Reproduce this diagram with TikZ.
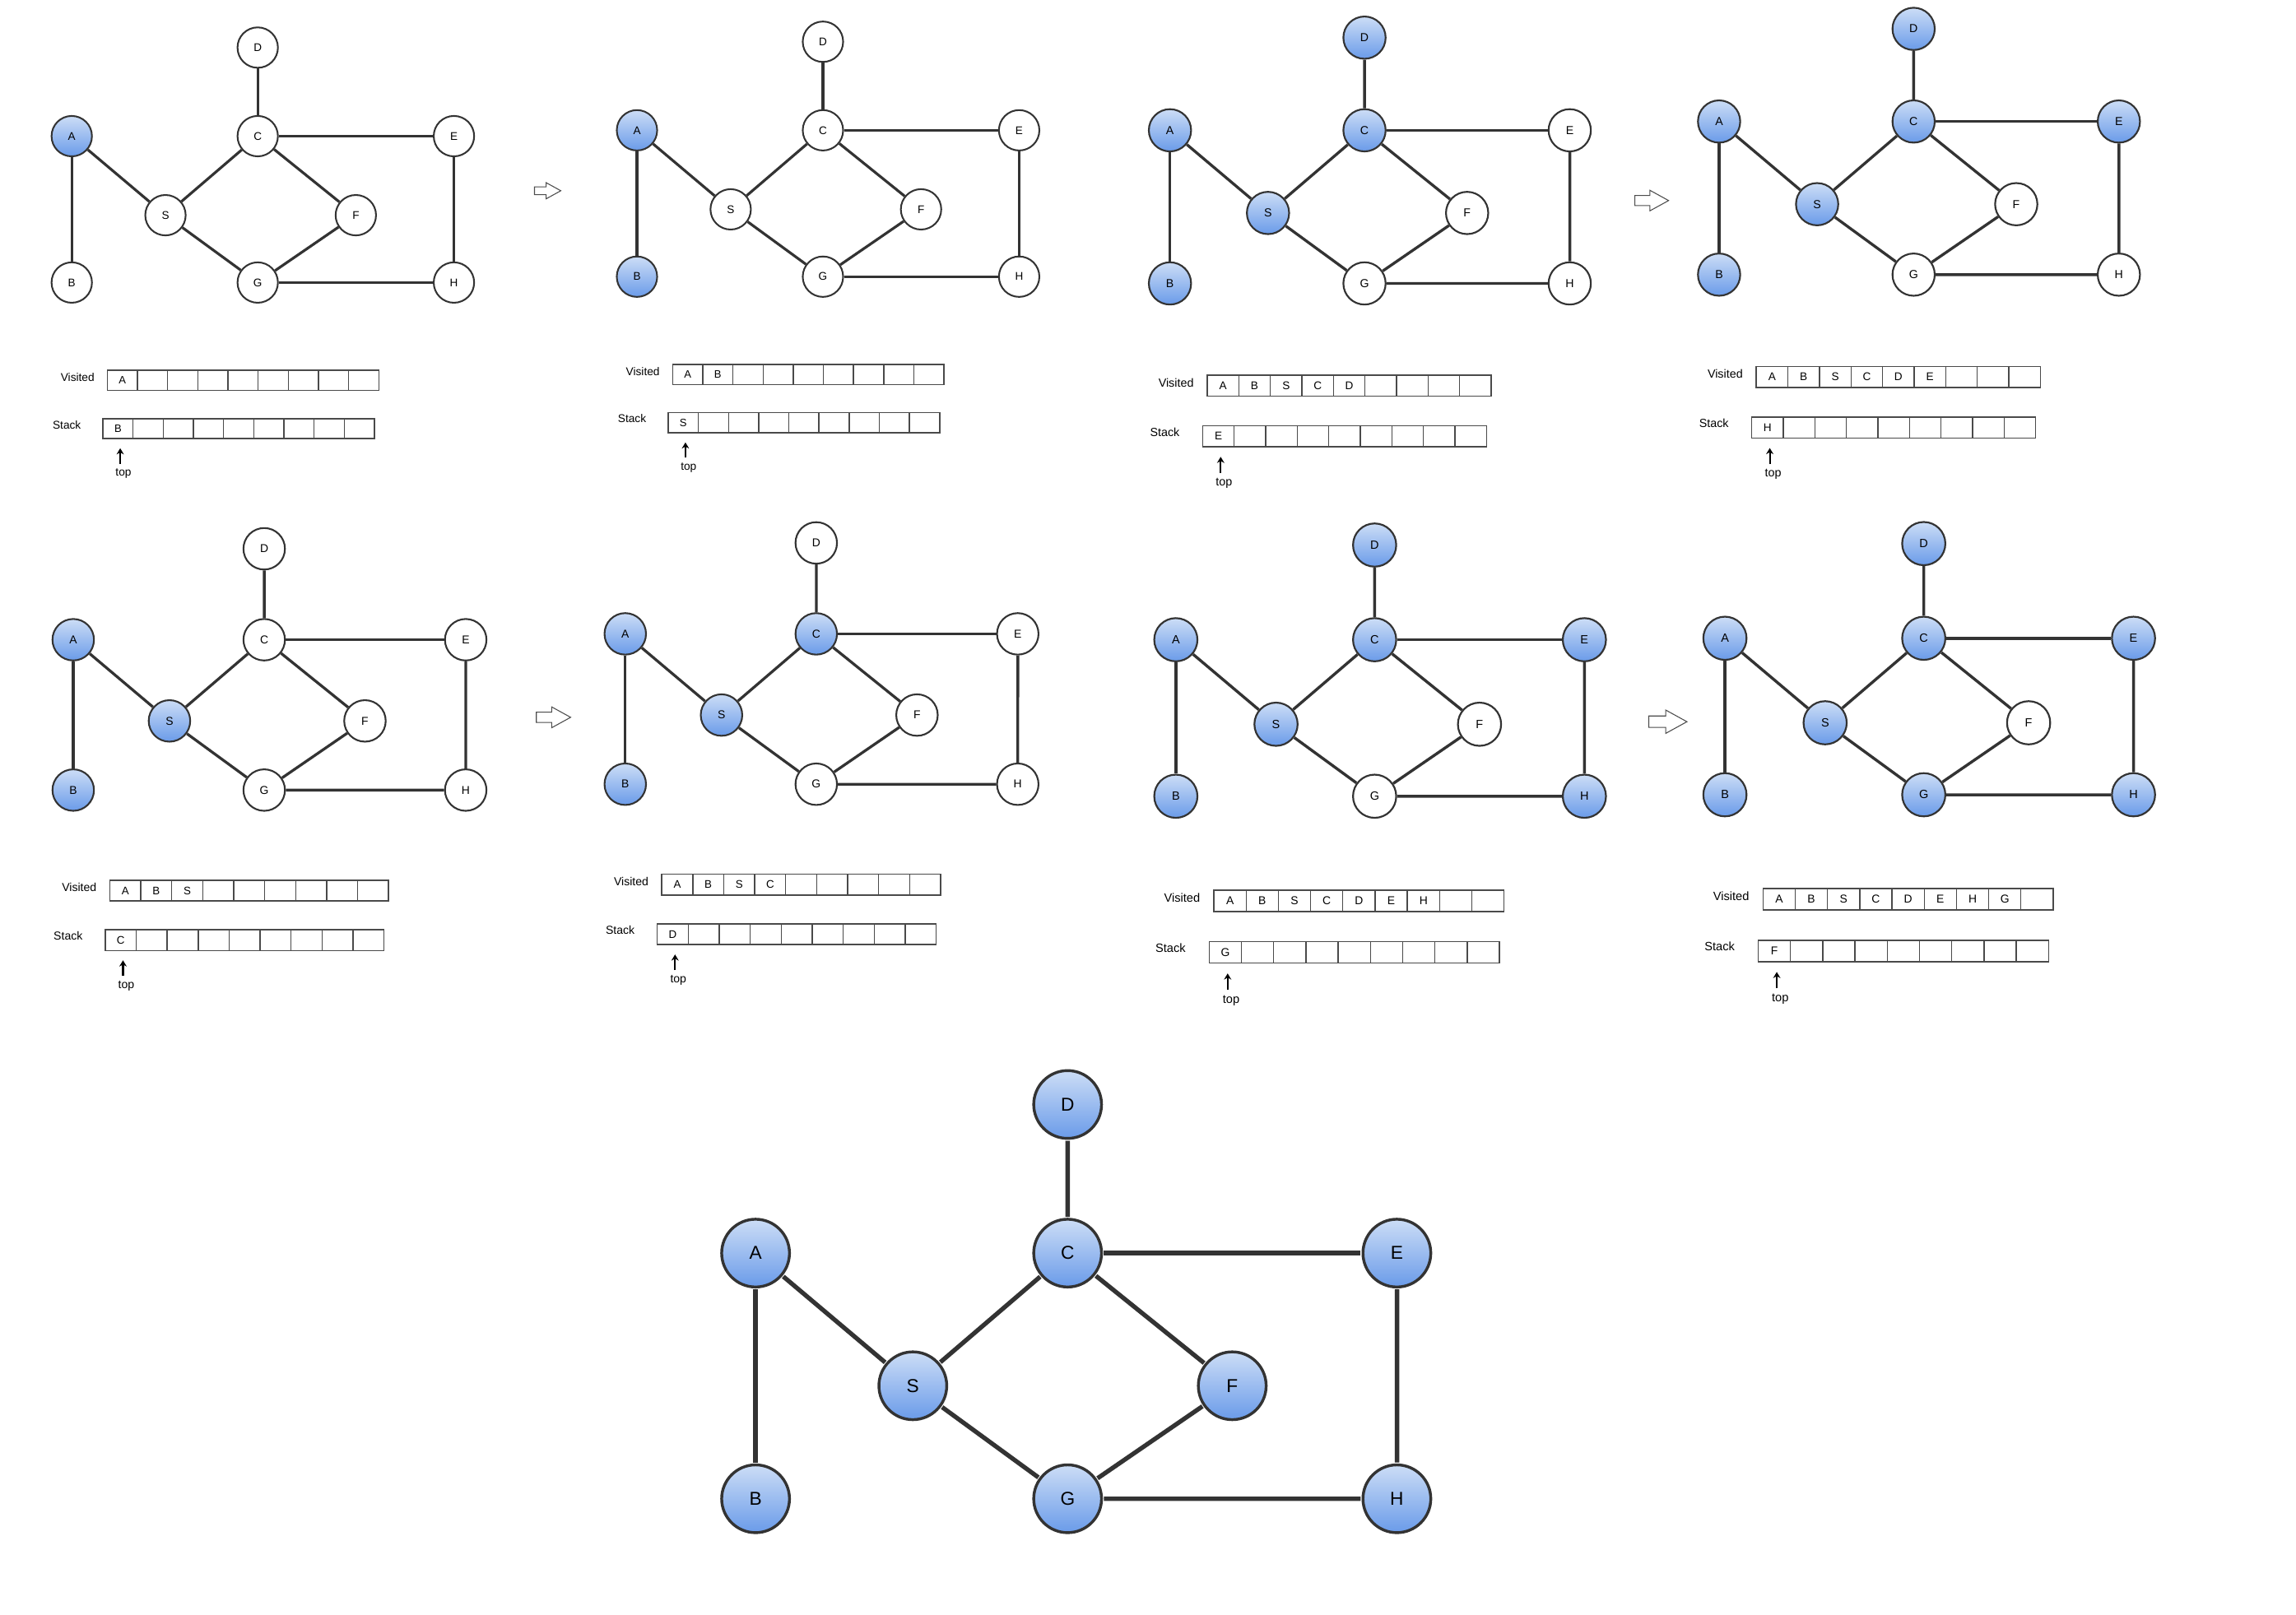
\documentclass[tikz,border=0pt]{standalone}
\usepackage{fontspec}
\setmainfont{Liberation Sans}
\usetikzlibrary{arrows.meta}
\definecolor{edgec}{HTML}{333333}
\definecolor{bluetop}{HTML}{CCDDF6}
\definecolor{bluebot}{HTML}{6A9BE9}
\definecolor{cellc}{HTML}{4A4A4A}
\tikzset{
  gnodebase/.style={circle, draw=edgec, minimum size=27.6pt, inner sep=0pt, font=\fontsize{7.6}{8}\selectfont},
  wnode/.style={gnodebase, fill=white},
  bnode/.style={gnodebase, top color=bluetop, bottom color=bluebot},
  edge/.style={draw=edgec},
  cell/.style={rectangle, draw=cellc, line width=0.8pt, minimum width=20.6pt, minimum height=13.7pt, inner sep=0pt},
  celltxt/.style={inner sep=0pt, font=\fontsize{7.3}{8}\selectfont},
  lbl/.style={inner sep=0pt, font=\fontsize{7.7}{8}\selectfont},
  toparrow/.style={-{Stealth[length=4.2pt,width=5pt]}, line width=1.2pt, black},
  blockarr/.style={draw=black!70, line width=0.6pt, fill=white, line join=miter},
}
\makeatletter
\newcommand\dfsgraph[3]{%
  \foreach \n/\px/\py in {A/0/0,B/0/100,S/64/54,C/127/0,D/127/-60.5,E/261/0,F/194/54,G/127/100,H/261/100}{%
    \expandafter\in@\expandafter{\n}{#2}%
    \ifin@
      \node[bnode, line width=#3*1.15pt] (#1\n) at (\px,\py) {\n};
    \else
      \node[wnode, line width=#3*1.15pt] (#1\n) at (\px,\py) {\n};
    \fi
  }
  \foreach \u/\v in {A/B,A/S,S/C,S/G,C/D,C/E,C/F,F/G,G/H,E/H}
    \draw[edge, line width=#3*1.8pt] (#1\u) -- (#1\v);
}
\makeatother
\newcommand\dfsarrays[3]{%
  \node[lbl, anchor=west] (#1vl) at (-7.7,164.8) {Visited};
  \node[lbl, anchor=west] (#1sl) at (-13.2,197.1) {Stack};
  \foreach \i in {0,...,8}{%
    \node[cell] (#1v\i) at ({34.6+20.6*\i},166.8) {};
    \node[cell] (#1s\i) at ({31.6+20.6*\i},199.8) {};
  }
  \foreach \l [count=\i from 0] in {#2} \node[celltxt] at (#1v\i) {\l};
  \node[celltxt] at (#1s0) {#3};
  \node[lbl] (#1top) at (35.3,230.4) {top};
  \coordinate (#1tail) at (33.1,223.7);
  \coordinate (#1tip) at (33.1,213.2);
  \draw[toparrow] (#1tail) -- (#1tip);
}
\newcommand\blockarrow[3]{%
  \begin{scope}[shift={(#1,#2)}, scale=#3]
    \draw[blockarr] (-9,-2.7) -- (-1,-2.7) -- (-1,-5.5) -- (9,0) -- (-1,5.5) -- (-1,2.7) -- (-9,2.7) -- cycle;
  \end{scope}}
\begin{document}
\begin{tikzpicture}[x=1pt, y=-1pt]
\useasboundingbox (0,0) rectangle (1568,1103);
% row 1
\begin{scope}[shift={(49,93)}, scale=1, transform shape]
  \dfsgraph{p1}{A}{1}\dfsarrays{p1}{A}{B}
\end{scope}
\begin{scope}[shift={(435,89)}, scale=1, transform shape]
  \dfsgraph{p2}{AB}{1}\dfsarrays{p2}{A,B}{S}
\end{scope}
\begin{scope}[shift={(799,89)}, scale=1.046, transform shape]
  \dfsgraph{p3}{ABSCD}{1.046}\dfsarrays{p3}{A,B,S,C,D}{E}
\end{scope}
\begin{scope}[shift={(1174,83)}, scale=1.046, transform shape]
  \dfsgraph{p4}{ABSCDE}{1.046}\dfsarrays{p4}{A,B,S,C,D,E}{H}
\end{scope}
% row 2
\begin{scope}[shift={(50,437)}, scale=1.027, transform shape]
  \dfsgraph{p5}{ABS}{1.027}\dfsarrays{p5}{A,B,S}{C}
\end{scope}
\begin{scope}[shift={(427,433)}, scale=1.027, transform shape]
  \dfsgraph{p6}{ABSC}{1.027}\dfsarrays{p6}{A,B,S,C}{D}
\end{scope}
\begin{scope}[shift={(803,437)}, scale=1.069, transform shape]
  \dfsgraph{p7}{ABSCDEH}{1.069}\dfsarrays{p7}{A,B,S,C,D,E,H}{G}
\end{scope}
\begin{scope}[shift={(1178,436)}, scale=1.069, transform shape]
  \dfsgraph{p8}{ABSCDEHG}{1.069}\dfsarrays{p8}{A,B,S,C,D,E,H,G}{F}
\end{scope}
% final graph
\begin{scope}[shift={(516,856)}, scale=1.678, transform shape]
  \dfsgraph{fin}{ABCDEFGHS}{1.678}
\end{scope}
% block arrows
\blockarrow{374}{130.3}{1}
\blockarrow{1128}{137}{1.28}
\blockarrow{378}{490}{1.3}
\blockarrow{1139}{493}{1.45}
\end{tikzpicture}
\end{document}
